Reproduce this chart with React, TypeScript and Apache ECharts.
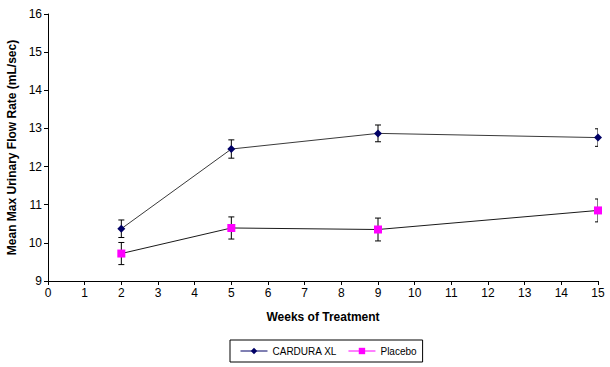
import React, { useEffect, useRef } from "react";
import * as echarts from "echarts";

const weeks = [2, 5, 9, 15];
const cardura = [10.37, 12.46, 12.87, 12.76];
const carduraErr = [0.23, 0.24, 0.22, 0.23];
const placebo = [9.72, 10.39, 10.35, 10.85];
const placeboErr = [0.29, 0.29, 0.3, 0.3];
const seriesNames = ["CARDURA XL", "Placebo"];

const FONT = "'Liberation Sans', Arial, sans-serif";

function errData(vals: number[], errs: number[]) {
  return weeks.map((w, i) => [w, vals[i] - errs[i], vals[i] + errs[i]]);
}

function renderErr(params: any, api: any) {
  const x = api.value(0);
  const lo = api.coord([x, api.value(1)]);
  const hi = api.coord([x, api.value(2)]);
  const cap = 3;
  const style = { stroke: "#000", lineWidth: 1 };
  return {
    type: "group",
    children: [
      { type: "line", shape: { x1: lo[0], y1: lo[1], x2: hi[0], y2: hi[1] }, style },
      { type: "line", shape: { x1: lo[0] - cap, y1: lo[1], x2: lo[0] + cap, y2: lo[1] }, style },
      { type: "line", shape: { x1: hi[0] - cap, y1: hi[1], x2: hi[0] + cap, y2: hi[1] }, style },
    ],
  };
}

export default function App() {
  const ref = useRef<HTMLDivElement>(null);
  useEffect(() => {
    const chart = echarts.init(ref.current!, null, { renderer: "svg" });
    chart.setOption({
      animation: false,
      backgroundColor: "#fff",
      textStyle: { fontFamily: FONT },
      grid: { left: 48, right: 12, top: 14, bottom: 86, containLabel: false, outerBoundsMode: "none" },
      xAxis: {
        type: "value",
        min: 0,
        max: 15,
        interval: 1,
        name: "Weeks of Treatment",
        nameLocation: "middle",
        nameGap: 30,
        nameTextStyle: { fontFamily: FONT, fontSize: 12, fontWeight: "bold", color: "#000" },
        axisLine: { lineStyle: { color: "#000", width: 1 } },
        axisTick: { show: true, length: 4, lineStyle: { color: "#000" } },
        axisLabel: { fontFamily: FONT, fontSize: 12, color: "#000", margin: 6 },
        splitLine: { show: false },
      },
      yAxis: {
        type: "value",
        min: 9,
        max: 16,
        interval: 1,
        name: "Mean Max Urinary Flow Rate (mL/sec)",
        nameLocation: "middle",
        nameGap: 28,
        nameTextStyle: { fontFamily: FONT, fontSize: 12, fontWeight: "bold", color: "#000" },
        axisLine: { show: true, lineStyle: { color: "#000", width: 1 } },
        axisTick: { show: true, length: 4, lineStyle: { color: "#000" } },
        axisLabel: { fontFamily: FONT, fontSize: 12, color: "#000", margin: 6 },
        splitLine: { show: false },
      },
      legend: {
        left: 230,
        top: 340,
        itemWidth: 27,
        itemHeight: 8,
        itemGap: 11,
        padding: [6, 6, 6, 10],
        borderColor: "#000",
        borderWidth: 1,
        borderRadius: 0,
        textStyle: { fontFamily: FONT, fontSize: 10, color: "#000" },
        data: [
          { name: seriesNames[0], itemStyle: { color: "#000066" }, lineStyle: { color: "#000066", width: 1 } },
          { name: seriesNames[1], itemStyle: { color: "#ff00ff" }, lineStyle: { color: "#ff00ff", width: 1 } },
        ],
      },
      series: [
        {
          name: seriesNames[0],
          type: "line",
          data: weeks.map((w, i) => [w, cardura[i]]),
          symbol: "diamond",
          symbolSize: 8,
          itemStyle: { color: "#000066" },
          lineStyle: { color: "#3a3a3a", width: 1 },
          z: 3,
        },
        {
          name: seriesNames[1],
          type: "line",
          data: weeks.map((w, i) => [w, placebo[i]]),
          symbol: "rect",
          symbolSize: 8,
          itemStyle: { color: "#ff00ff" },
          lineStyle: { color: "#1a1a1a", width: 1 },
          z: 3,
        },
        {
          type: "custom",
          renderItem: renderErr,
          data: errData(cardura, carduraErr),
          clip: true,
          silent: true,
          z: 2,
        },
        {
          type: "custom",
          renderItem: renderErr,
          data: errData(placebo, placeboErr),
          clip: true,
          silent: true,
          z: 2,
        },
      ],
    });
    return () => chart.dispose();
  }, []);
  return (
    <div
      ref={ref}
      style={{ position: "fixed", left: 0, top: 0, width: 610, height: 367 }}
    />
  );
}
